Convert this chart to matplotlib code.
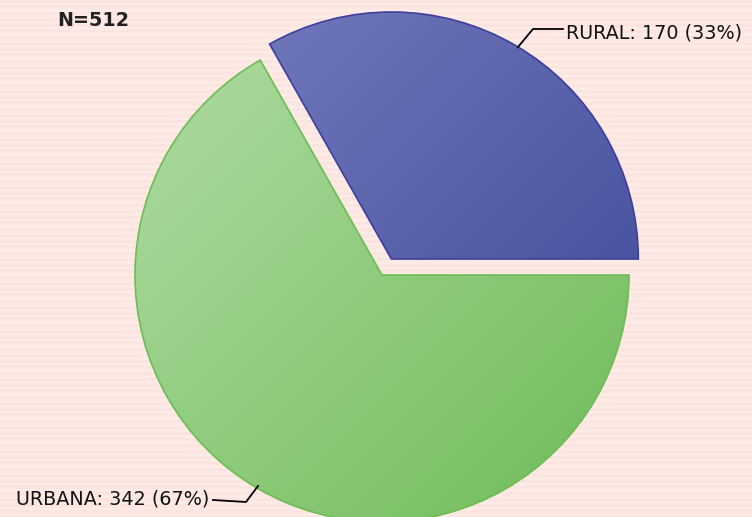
import matplotlib.pyplot as plt
import numpy as np

plt.rcParams['font.family'] = ['DejaVu Sans']

labels = ['RURAL', 'URBANA']
values = [170, 342]
total = sum(values)

# gradient colours (light top-left -> dark bottom-right)
grads = [('#777fc0', '#3a4597'), ('#b0dca5', '#6fbb58')]
edges = ['#3d3f9c', '#6cbd55']

W, H = 752, 517
fig = plt.figure(figsize=(W / 100, H / 100), dpi=100)

# striped pink background
bg = fig.add_axes([0, 0, 1, 1])
rows = np.arange(H)
stripe = ((rows // 3) % 2).reshape(-1, 1)
c1 = np.array([253, 228, 224]) / 255
c2 = np.array([253, 236, 229]) / 255
img = np.where(stripe[..., None] == 0, c1, c2) * np.ones((1, W, 1))
bg.imshow(img, aspect='auto', extent=[0, 1, 0, 1], interpolation='nearest')
bg.axis('off')

ax = fig.add_axes([0, 0, 1, 1])
ax.patch.set_alpha(0)
wedges, _ = ax.pie(values, startangle=0, counterclock=True, explode=[0.075, 0],
                   radius=1, wedgeprops=dict(linewidth=1.2))

r_px = 247
cx, cy = 382, 275


def hex2rgb(h):
    return np.array([int(h[i:i + 2], 16) for i in (1, 3, 5)]) / 255


# gradient fill clipped to each wedge
for w, (ca, cb), ec in zip(wedges, grads, edges):
    w.set_facecolor('none')
    w.set_edgecolor(ec)
    w.set_zorder(3)
    a, b = hex2rgb(ca), hex2rgb(cb)
    n = 200
    gx, gy = np.meshgrid(np.linspace(0, 1, n), np.linspace(0, 1, n))
    t = ((gx + gy) / 2)[..., None]
    grad = a * (1 - t) + b * t
    cxw, cyw = w.center
    im = ax.imshow(grad, extent=[cxw - 1, cxw + 1, cyw - 1, cyw + 1], origin='upper',
                   zorder=2, interpolation='bilinear')
    im.set_clip_path(w)

ax.set_xlim(-cx / r_px, (W - cx) / r_px)
ax.set_ylim(-(H - cy) / r_px, cy / r_px)
ax.set_aspect('auto')
ax.axis('off')


def px(x, y):
    return ((x - cx) / r_px, (cy - y) / r_px)


fs = 13.8
# leader lines and labels
pts = [px(518, 47), px(533, 29), px(563, 29)]
ax.plot([p[0] for p in pts], [p[1] for p in pts], color='black', lw=1.3, zorder=4)
ax.text(*px(566, 33), f'{labels[0]}: {values[0]} ({values[0] / total:.0%})',
        fontsize=fs, va='center', ha='left', color='#111111')

pts = [px(258, 486), px(246, 502), px(213, 500)]
ax.plot([p[0] for p in pts], [p[1] for p in pts], color='black', lw=1.3, zorder=4)
ax.text(*px(209, 499), f'{labels[1]}: {values[1]} ({values[1] / total:.0%})',
        fontsize=fs, va='center', ha='right', color='#111111')

fig.text(57 / W, 1 - 20 / H, f'N={total}', fontsize=fs, fontweight='bold',
         va='center', ha='left', color='#222222')

fig.savefig('out.png', dpi=100)
